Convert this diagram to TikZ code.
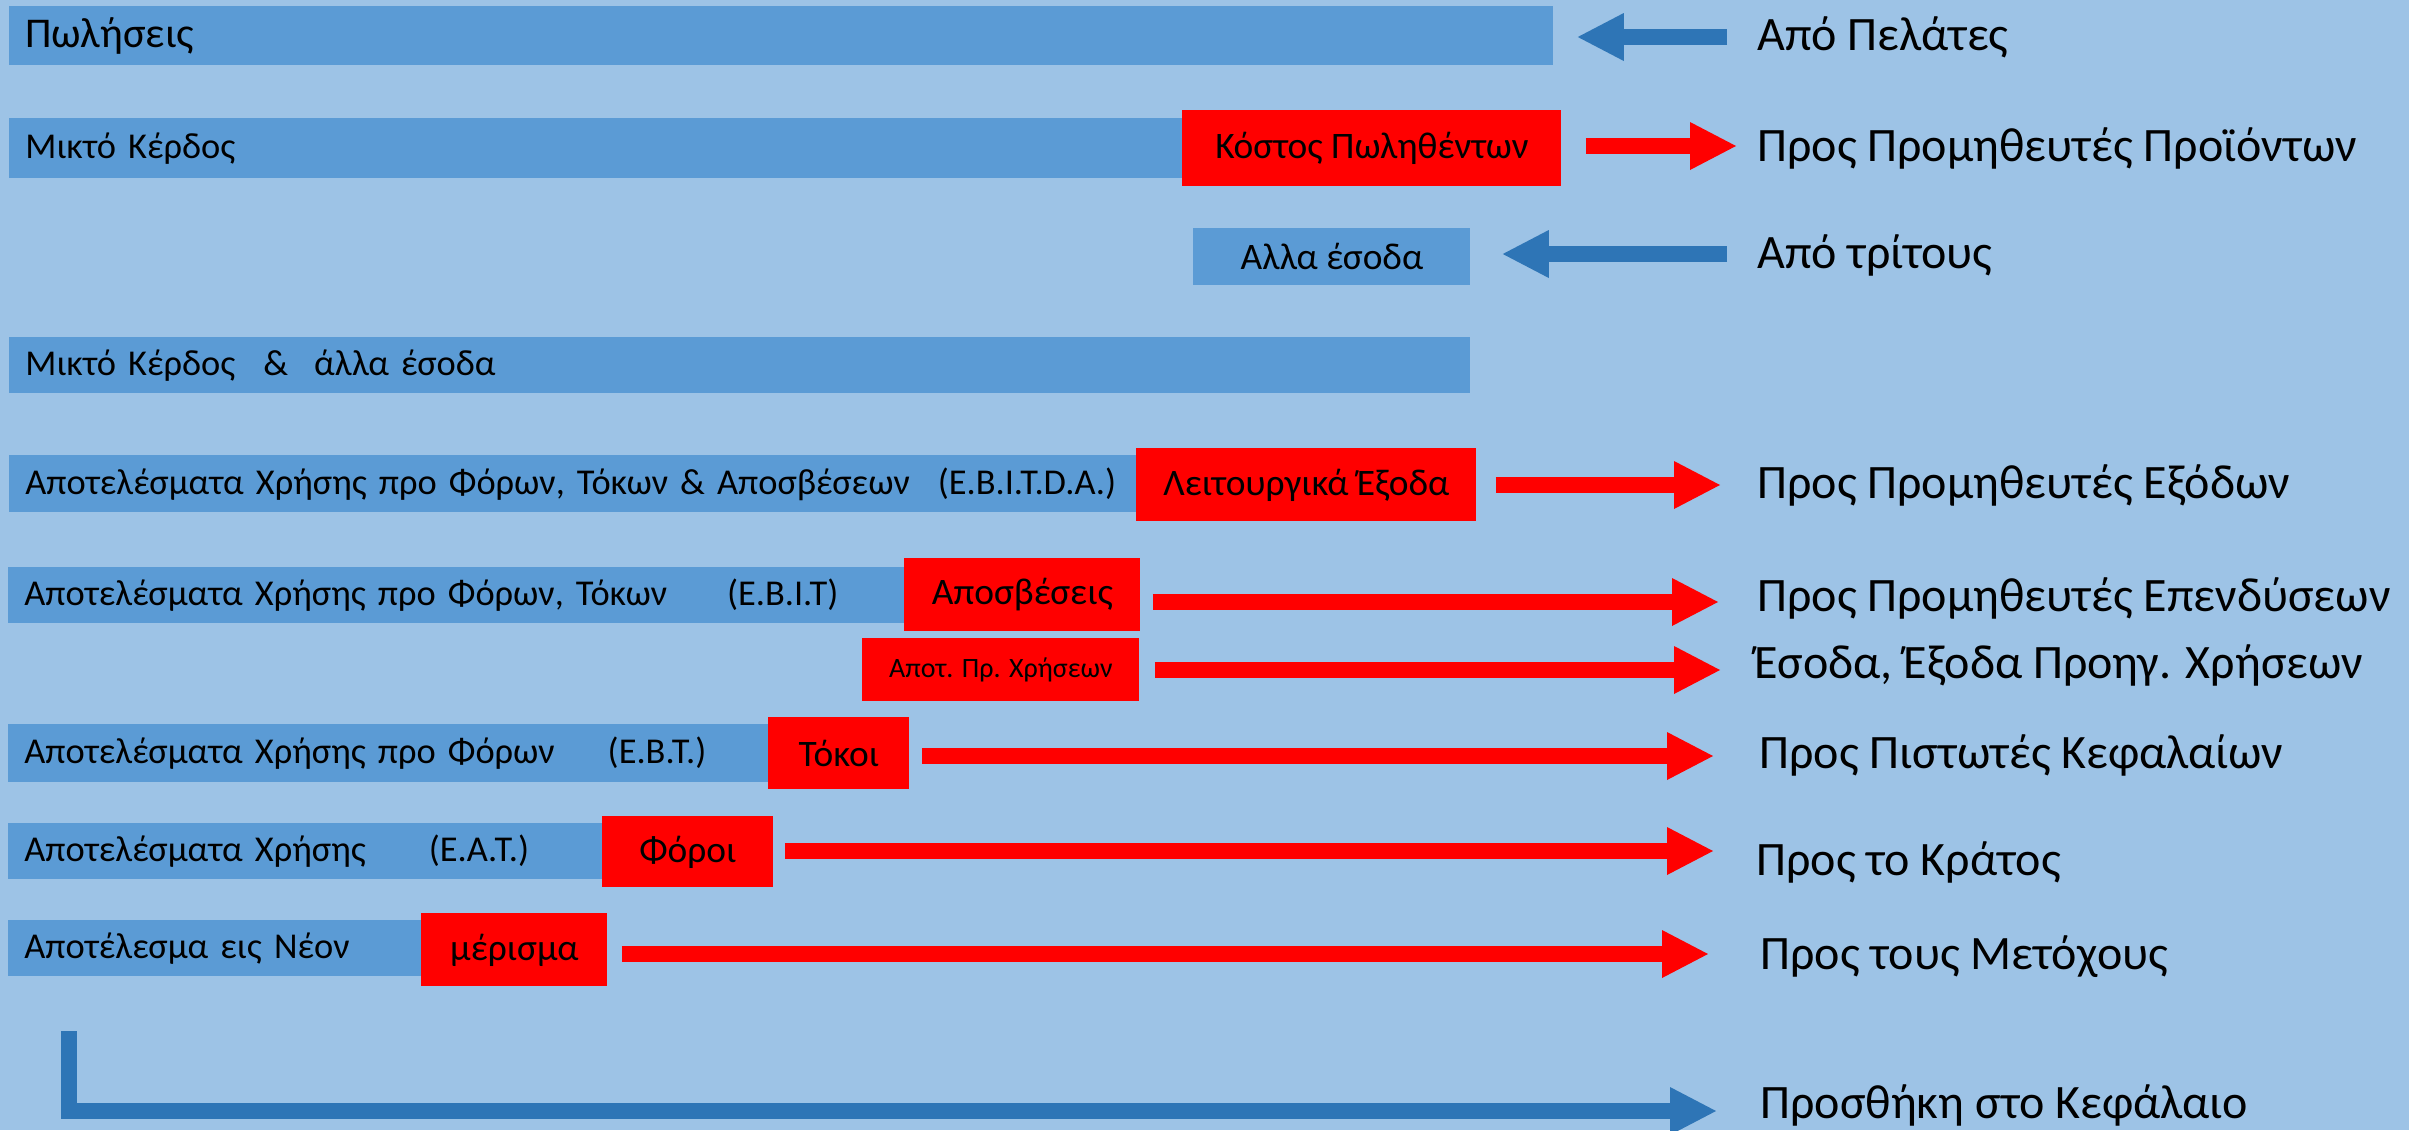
\documentclass[tikz,border=0pt]{standalone}
\usepackage{fontspec}
\setmainfont{Carlito}
\usetikzlibrary{arrows.meta,calc}
\definecolor{bgc}{HTML}{9DC3E6}
\definecolor{barc}{HTML}{5B9BD5}
\definecolor{darkb}{HTML}{2E75B6}
\definecolor{redc}{HTML}{FF0000}
\begin{document}
\begin{tikzpicture}[x=1pt,y=-1pt,
  barbox/.style={fill=barc, inner xsep=8pt, inner ysep=0pt, align=left, anchor=north west, font=\fontsize{18.2}{21}\selectfont},
  midbox/.style={fill=barc, inner sep=0pt, anchor=north west, align=center, font=\fontsize{18.7}{21}\selectfont},
  redbox/.style={fill=redc, inner sep=0pt, anchor=north west, align=center, font=\fontsize{18.7}{21}\selectfont},
  rlabel/.style={anchor=base west, inner sep=0pt, font=\fontsize{24}{28}\selectfont},
  flowR/.style={draw=redc, line width=8pt, -{Triangle[width=24pt,length=23pt,line width=0pt]}},
  flowB/.style={draw=darkb, line width=8pt, -{Triangle[width=24pt,length=23pt,line width=0pt]}},
]
\useasboundingbox (0,0) rectangle (1204.5,565);
\fill[bgc] (0,0) rectangle (1204.5,565);

% Row 1
\node[barbox, text width=756pt, minimum height=29.5pt, font=\fontsize{21.2}{24}\selectfont] (sales) at (4.5,3) {\mbox{Πωλήσεις}};
\node[rlabel] (l1) at (878.5,25) {Από Πελάτες};
\coordinate (s1) at (863.5,18.5);
\draw[flowB, shorten >=12pt] (s1) -- (s1 -| sales.east);

% Row 2
\node[barbox, text width=570.5pt, minimum height=30pt] (gross) at (4.5,59) {\mbox{Μικτό Κέρδος}};
\node[redbox, minimum width=189.5pt, minimum height=38pt] (cogs) at (591,55) {Κόστος Πωληθέντων};
\node[rlabel] (l2) at (878.5,80.5) {Προς Προμηθευτές Προϊόντων};
\coordinate (t2) at (868,73);
\draw[flowR, shorten <=12pt] (cogs.east |- t2) -- (t2);

% Row 3
\node[midbox, minimum width=138.5pt, minimum height=28.5pt] (other) at (596.5,114) {Αλλα έσοδα};
\node[rlabel] (l3) at (878.5,134) {Από τρίτους};
\coordinate (s3) at (863.5,127);
\draw[flowB, shorten >=16pt] (s3) -- (s3 -| other.east);

% Row 4
\node[barbox, text width=714.5pt, minimum height=28pt] (grossother) at (4.5,168.5) {\mbox{Μικτό Κέρδος\hspace{14pt}\&\hspace{13pt}άλλα έσοδα}};

% Row 5
\node[barbox, text width=547.5pt, minimum height=28.5pt] (ebitda) at (4.5,227.5) {\mbox{Αποτελέσματα Χρήσης προ Φόρων, Τόκων \& Αποσβέσεων\hspace{14pt}(E.B.I.T.D.A.)}};
\node[redbox, minimum width=170pt, minimum height=36.5pt] (opex) at (568,224) {Λειτουργικά Έξοδα};
\node[rlabel] (l5) at (878.5,249) {Προς Προμηθευτές Εξόδων};
\coordinate (t5) at (860,242.5);
\draw[flowR, shorten <=9.5pt] (opex.east |- t5) -- (t5);

% Row 6
\node[barbox, text width=432pt, minimum height=28pt] (ebit) at (4,283.5) {\mbox{Αποτελέσματα Χρήσης προ Φόρων, Τόκων\hspace{30pt}(E.B.I.T)}};
\node[redbox, minimum width=118pt, minimum height=36.5pt] (depr) at (452,279) {Αποσβέσεις};
\node[rlabel] (l6) at (878.5,305.5) {Προς Προμηθευτές Επενδύσεων};
\coordinate (t6) at (859,301);
\draw[flowR, shorten <=6pt] (depr.east |- t6) -- (t6);

% Row 7
\node[redbox, minimum width=138.5pt, minimum height=31.5pt, font=\fontsize{14}{16}\selectfont] (prior) at (431,319) {Αποτ. Πρ. Χρήσεων};
\node[rlabel] (l7) at (877,339) {Έσοδα, Έξοδα Προηγ. Χρήσεων};
\coordinate (t7) at (860,335);
\draw[flowR, shorten <=7.5pt] (prior.east |- t7) -- (t7);

% Row 8
\node[barbox, text width=364pt, minimum height=29pt] (ebt) at (4,362) {\mbox{Αποτελέσματα Χρήσης προ Φόρων\hspace{26.5pt}(E.B.T.)}};
\node[redbox, minimum width=70.5pt, minimum height=36pt] (int) at (384,358.5) {Τόκοι};
\node[rlabel] (l8) at (879.5,384) {Προς Πιστωτές Κεφαλαίων};
\coordinate (t8) at (856.5,378);
\draw[flowR, shorten <=6pt] (int.east |- t8) -- (t8);

% Row 9
\node[barbox, text width=281pt, minimum height=28pt] (eat) at (4,411.5) {\mbox{Αποτελέσματα Χρήσης\hspace{31.5pt}(E.A.T.)}};
\node[redbox, minimum width=85.5pt, minimum height=35.5pt] (tax) at (301,408) {Φόροι};
\node[rlabel] (l9) at (878,437.5) {Προς το Κράτος};
\coordinate (t9) at (856.5,425.5);
\draw[flowR, shorten <=5.5pt] (tax.east |- t9) -- (t9);

% Row 10
\node[barbox, text width=190.5pt, minimum height=28pt] (ret) at (4,460) {\mbox{Αποτέλεσμα εις Νέον}};
\node[redbox, minimum width=93pt, minimum height=36.5pt] (div) at (210.5,456.5) {μέρισμα};
\node[rlabel] (l10) at (880,484.5) {Προς τους Μετόχους};
\coordinate (t10) at (854,477);
\draw[flowR, shorten <=7pt] (div.east |- t10) -- (t10);

% Row 11
\coordinate (c0) at (34.5,515.5);
\coordinate (t11) at (858,555.5);
\node[rlabel] (l11) at (880,559) {Προσθήκη στο Κεφάλαιο};
\draw[flowB] (c0) |- (t11);
\end{tikzpicture}
\end{document}
